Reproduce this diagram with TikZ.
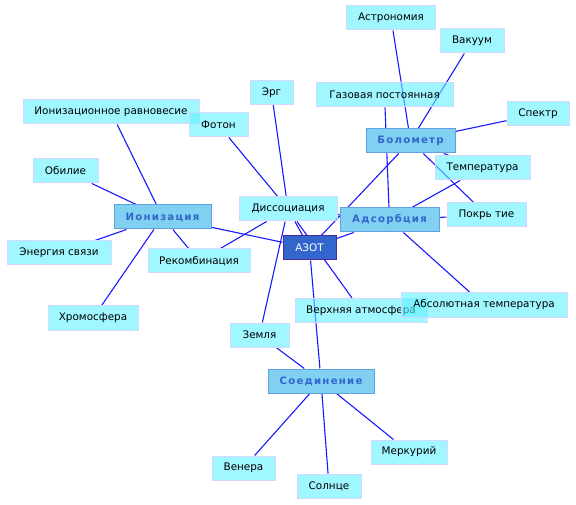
\documentclass[tikz,border=0pt]{standalone}
\usepackage{fontspec}
\setmainfont{DejaVu Sans}
\newfontfamily\topicfont[LetterSpace=12]{DejaVu Sans}
\usepackage{xcolor}
\usetikzlibrary{backgrounds}
\definecolor{leafcyan}{RGB}{96, 242, 255}
\definecolor{leafedge}{RGB}{208, 216, 255}
\definecolor{topicfill}{RGB}{128, 208, 242}
\definecolor{topicedge}{RGB}{100, 160, 225}
\definecolor{topictext}{RGB}{51, 102, 204}
\definecolor{rootfill}{RGB}{51, 102, 204}
\definecolor{rootedge}{RGB}{75, 42, 155}
\definecolor{linkblue}{RGB}{25, 25, 255}

\begin{document}
\begin{tikzpicture}[x=1pt, y=-1pt,
    leaf/.style={draw=leafedge, line width=1pt, fill=leafcyan, fill opacity=0.6, text opacity=1,
        minimum height=24pt, inner sep=1pt, font=\fontsize{10.4}{12}\selectfont},
    topic/.style={draw=topicedge, line width=1pt, fill=topicfill, text=topictext,
        minimum height=24pt, inner sep=1pt, font=\fontsize{10.2}{12}\selectfont\topicfont\bfseries},
    root/.style={draw=rootedge, line width=1pt, fill=rootfill, text=white,
        minimum height=24pt, inner sep=1pt, font=\fontsize{10.4}{12}\selectfont},
    link/.style={draw=linkblue, line width=1.1pt}]
        \useasboundingbox (0, 0) rectangle (576, 505);

        % Centre
        \node[root, minimum width=53pt] (azot) at (309.5, 248) {АЗОТ};

        % Topics
        \node[topic, minimum width=97pt] (ioniz) at (162.5, 217) {Ионизация};
        \node[topic, minimum width=89pt] (bolom) at (410.5, 141) {Болометр};
        \node[topic, minimum width=99pt] (adsorb) at (389.5, 220) {Адсорбция};
        \node[topic, minimum width=106pt] (soedin) at (321, 381) {Соединение};

        % Leaves
        \node[leaf, minimum width=89pt] (astro) at (391, 18) {Астрономия};
        \node[leaf, minimum width=64pt] (vakuum) at (472, 41) {Вакуум};
        \node[leaf, minimum width=137pt] (gazpost) at (384.5, 95) {Газовая постоянная};
        \node[leaf, minimum width=62pt] (spektr) at (538, 114) {Спектр};
        \node[leaf, minimum width=95pt] (temper) at (482.5, 168) {Температура};
        \node[leaf, minimum width=79pt] (pokr) at (486.5, 215) {Покрь тие};
        \node[leaf, minimum width=98pt] (dissoc) at (288, 209) {Диссоциация};
        \node[leaf, minimum width=102pt] (rekomb) at (199, 261) {Рекомбинация};
        \node[leaf, minimum width=104pt] (energ) at (59, 253) {Энергия связи};
        \node[leaf, minimum width=65pt] (obil) at (65.5, 171) {Обилие};
        \node[leaf, minimum width=176pt] (ionravn) at (111, 112) {Ионизационное равновесие};
        \node[leaf, minimum width=59pt] (foton) at (218.5, 125) {Фотон};
        \node[leaf, minimum width=43pt] (erg) at (271.5, 92.5) {Эрг};
        \node[leaf, minimum width=90pt] (hromo) at (93, 318) {Хромосфера};
        \node[leaf, minimum width=132pt] (verhatm) at (361, 310.5) {Верхняя атмосфера};
        \node[leaf, minimum width=166pt] (abstemp) at (484, 305) {Абсолютная температура};
        \node[leaf, minimum width=59pt] (zemlya) at (259.5, 335) {Земля};
        \node[leaf, minimum width=63pt] (venera) at (243.5, 468) {Венера};
        \node[leaf, minimum width=64pt] (solnce) at (329, 486) {Солнце};
        \node[leaf, minimum width=76pt] (merkur) at (409, 452) {Меркурий};

        % Links (behind the boxes)
        \begin{pgfonlayer}{background}
        \foreach \a/\b in {azot/ioniz, azot/bolom, azot/adsorb, azot/soedin, azot/dissoc,
                dissoc/verhatm, dissoc/zemlya, dissoc/erg, dissoc/foton, dissoc/rekomb, dissoc/adsorb,
                ioniz/rekomb, ioniz/obil, ioniz/ionravn, ioniz/energ, ioniz/hromo,
                bolom/astro, bolom/vakuum, bolom/spektr, bolom/temper, bolom/pokr,
                adsorb/gazpost, adsorb/temper, adsorb/pokr, adsorb/abstemp,
                soedin/zemlya, soedin/venera, soedin/solnce, soedin/merkur}
            \draw[link] (\a) -- (\b);
        \end{pgfonlayer}
    \end{tikzpicture}
\end{document}
